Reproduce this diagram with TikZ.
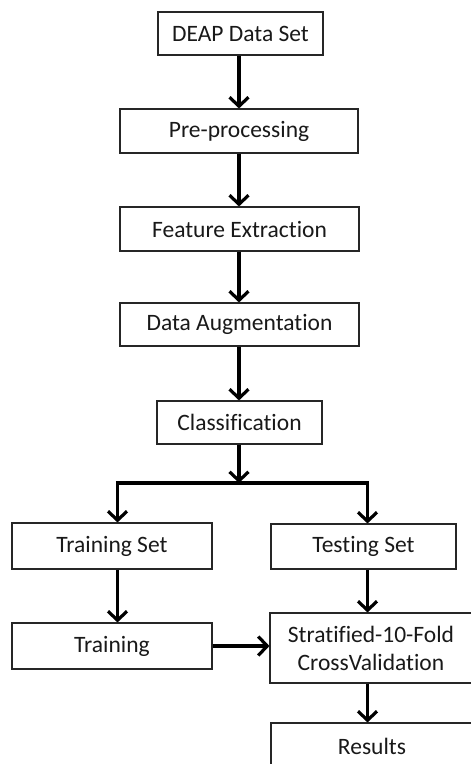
\documentclass[tikz,border=0pt]{standalone}
\usepackage{fontspec}
\setmainfont[Ligatures=CommonOff]{Carlito}
\usetikzlibrary{arrows.meta}
\begin{document}
\begin{tikzpicture}[x=1pt,y=-1pt,
  box/.style={draw=black!85, line width=1.1pt, fill=white, inner sep=0pt,
    font=\fontsize{23.5}{28}\selectfont, text=black!90, align=center},
  conn/.style={line width=3.2pt, draw=black},
  arr/.style={conn, -{Straight Barb[length=9pt,width=19pt,line width=3.2pt]}}]
\useasboundingbox (0,0) rectangle (471,764);
\clip (0,0) rectangle (471,764);
\node[box, minimum width=165pt, minimum height=43pt] (deap) at (240.5,33.5) {DEAP Data Set};
\node[box, minimum width=238pt, minimum height=44pt] (pre) at (239,131) {Pre-processing};
\node[box, minimum width=239pt, minimum height=44pt] (feat) at (239.5,229) {Feature Extraction};
\node[box, minimum width=239pt, minimum height=43pt] (aug) at (239.5,324.5) {Data Augmentation};
\node[box, minimum width=165pt, minimum height=43pt] (cls) at (239.5,422.5) {Classification};
\node[box, minimum width=200pt, minimum height=46pt] (trs) at (112,546) {Training Set};
\node[box, minimum width=185pt, minimum height=45pt] (tes) at (363.5,546.5) {Testing Set};
\node[box, minimum width=200pt, minimum height=46pt] (trn) at (112,646) {Training};
\node[box, minimum width=202pt, minimum height=70pt] (str) at (371,648) {Stratified-10-Fold\\CrossValidation};
\node[box, minimum width=202pt, minimum height=46pt] (res) at (372,746) {Results};
\coordinate (j) at (239,483);
\coordinate (jl) at (117.5,483);
\coordinate (jr) at (367.5,483);
\draw[arr] (deap.south -| j) -- (pre.north -| j);
\draw[arr] (pre.south -| j) -- (feat.north -| j);
\draw[arr] (feat.south -| j) -- (aug.north -| j);
\draw[arr] (aug.south -| j) -- (cls.north -| j);
\draw[arr] (cls.south -| j) -- (j);
\draw[conn] ([xshift=-1.6pt]jl) -- ([xshift=1.6pt]jr);
\draw[arr] (jl) -- (trs.north -| jl);
\draw[arr] (jr) -- (tes.north -| jr);
\draw[arr] (trs.south -| jl) -- (trn.north -| jl);
\draw[arr] (tes.south -| jr) -- (str.north -| jr);
\draw[arr] (trn.east) -- (trn.east -| str.west);
\draw[arr] (str.south -| jr) -- (res.north -| jr);
\end{tikzpicture}
\end{document}
